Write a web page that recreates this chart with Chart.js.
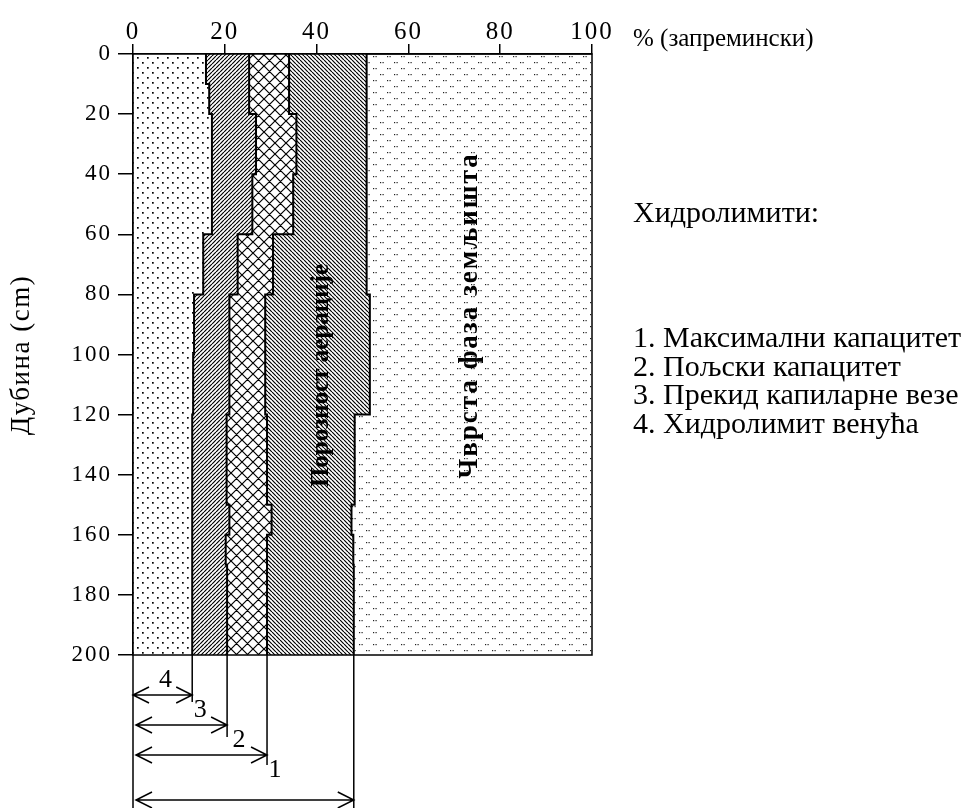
<!DOCTYPE html>
<html lang="sr">
<head>
<meta charset="UTF-8" />
<title>Хидролимити</title>
<script src="https://cdn.jsdelivr.net/npm/chart.js@4.4.1/dist/chart.umd.min.js"></script>
<style>
  * { box-sizing: border-box; }
  html, body { margin: 0; padding: 0; background: #fff; }
  #wrap { position: relative; width: 963px; height: 808px; }
</style>
</head>
<body>
<div id="wrap"><canvas id="chart"></canvas></div>
<script>
// depth (cm) where each layer starts; the last layer goes down to profileBottom
const depthTops = [0, 10, 20, 40, 60, 80, 100, 120, 150, 160, 170];
const profileBottom = 200;

// hydrolimits, % by volume, one value per layer
const maxCapacity    = [50.9, 50.9, 50.9, 50.9, 50.9, 51.6, 51.6, 48.3, 47.6, 48.0, 48.1]; // 1
const fieldCapacity  = [34.0, 34.0, 35.6, 34.9, 30.5, 28.8, 28.8, 29.2, 30.2, 29.2, 29.2]; // 2
const capillaryBreak = [25.3, 25.3, 26.8, 26.0, 22.8, 21.0, 21.0, 20.4, 21.0, 20.2, 20.5]; // 3
const wiltingPoint   = [15.9, 16.6, 17.2, 17.2, 15.3, 13.3, 13.1, 12.9, 12.9, 12.9, 12.9]; // 4

const xTicks = [0, 20, 40, 60, 80, 100];
const yTicks = [0, 20, 40, 60, 80, 100, 120, 140, 160, 180, 200];

const legendTitle = 'Хидролимити:';
const legendItems = ['1. Максимални капацитет', '2. Пољски капацитет', '3. Прекид капиларне везе', '4. Хидролимит венућа'];

const SERIF = "'Liberation Serif', 'Times New Roman', serif";

// step profile: one point at the top of every layer plus one at the bottom
function profile(values) {
  const pts = values.map((v, i) => ({ x: v, y: depthTops[i] }));
  pts.push({ x: values[values.length - 1], y: profileBottom });
  return pts;
}

// small tiles for the hatch patterns
function makePattern(w, h, draw) {
  const c = document.createElement('canvas');
  c.width = w; c.height = h;
  const g = c.getContext('2d');
  g.fillStyle = '#fff';
  g.fillRect(0, 0, w, h);
  g.fillStyle = '#000';
  g.strokeStyle = '#000';
  g.lineWidth = 1.2;
  draw(g, w, h);
  return g.createPattern(c, 'repeat');
}

const patterns = {
  dots: makePattern(10, 10, g => {
    g.fillRect(2, 2, 1.7, 1.7);
    g.fillRect(7, 7, 1.7, 1.7);
  }),
  solid: makePattern(14, 12, g => {
    g.fillStyle = '#222';
    g.fillRect(2, 2, 1.2, 1.2); g.fillRect(4.5, 2, 1.2, 1.2);
    g.fillRect(9, 8, 1.2, 1.2); g.fillRect(11.5, 8, 1.2, 1.2);
  }),
  slash: makePattern(4, 4, (g, w, h) => {
    g.beginPath();
    for (let k = -1; k <= 1; k++) { g.moveTo(k * w, h); g.lineTo(k * w + w, 0); }
    g.stroke();
  }),
  backslash: makePattern(4, 4, (g, w, h) => {
    g.beginPath();
    for (let k = -1; k <= 1; k++) { g.moveTo(k * w, 0); g.lineTo(k * w + w, h); }
    g.stroke();
  }),
  cross: makePattern(11, 11, (g, w, h) => {
    g.beginPath();
    for (let k = -1; k <= 1; k++) {
      g.moveTo(k * w, h); g.lineTo(k * w + w, 0);
      g.moveTo(k * w, 0); g.lineTo(k * w + w, h);
    }
    g.stroke();
  })
};

function text(ctx, str, x, y, font, opts = {}) {
  ctx.save();
  ctx.letterSpacing = opts.spacing || '0px';
  ctx.font = font;
  ctx.fillStyle = '#000';
  ctx.textAlign = opts.align || 'left';
  ctx.textBaseline = opts.baseline || 'alphabetic';
  ctx.translate(x, y);
  if (opts.rotate) ctx.rotate(opts.rotate);
  ctx.fillText(str, 0, 0);
  ctx.restore();
}

function arrow(ctx, x1, x2, y) {
  const hl = 16, hw = 8;
  ctx.beginPath();
  ctx.moveTo(x1, y); ctx.lineTo(x2, y);
  ctx.moveTo(x1 + hl, y - hw); ctx.lineTo(x1, y); ctx.lineTo(x1 + hl, y + hw);
  ctx.moveTo(x2 - hl, y - hw); ctx.lineTo(x2, y); ctx.lineTo(x2 - hl, y + hw);
  ctx.stroke();
}

const decor = {
  id: 'decor',
  beforeUpdate(chart) { chart.ctx.letterSpacing = '2px'; },
  beforeDraw(chart) {
    const { ctx, chartArea: a } = chart;
    ctx.save();
    ctx.fillStyle = patterns.solid;
    ctx.fillRect(a.left, a.top, a.right - a.left, a.bottom - a.top);
    ctx.restore();
    ctx.letterSpacing = '2px';
  },
  afterDatasetsDraw(chart) {
    const { ctx, chartArea: a, scales } = chart;
    const xs = scales.x, ys = scales.y;
    ctx.save();
    ctx.strokeStyle = '#000';
    ctx.lineWidth = 1.5;
    ctx.strokeRect(a.left, a.top, a.right - a.left, a.bottom - a.top);
    ctx.restore();
    // labels inside the profile
    text(ctx, 'Порозност аерације', xs.getPixelForValue(41), ys.getPixelForValue(107),
      'bold 25px ' + SERIF, { align: 'center', baseline: 'middle', rotate: -Math.PI / 2 });
    text(ctx, 'Чврста фаза земљишта', xs.getPixelForValue(73.4), ys.getPixelForValue(87),
      'bold 27px ' + SERIF, { align: 'center', baseline: 'middle', rotate: -Math.PI / 2, spacing: '2px' });
  },
  afterDraw(chart) {
    const { ctx, chartArea: a, scales } = chart;
    const xs = scales.x;
    const last = arr => arr[arr.length - 1];
    const x0 = xs.getPixelForValue(0);
    const limits = [wiltingPoint, capillaryBreak, fieldCapacity, maxCapacity];
    const lineEnd = [47, 82, 110, 160];
    const arrowY = [40, 70, 100, 145];
    ctx.save();
    ctx.letterSpacing = '0px';
    ctx.strokeStyle = '#000';
    ctx.lineWidth = 1.5;
    ctx.beginPath();
    ctx.moveTo(x0, a.bottom); ctx.lineTo(x0, chart.height);
    limits.forEach((arr, i) => {
      const xp = xs.getPixelForValue(last(arr));
      ctx.moveTo(xp, a.bottom); ctx.lineTo(xp, a.bottom + lineEnd[i]);
    });
    ctx.stroke();
    limits.forEach((arr, i) => {
      arrow(ctx, x0 + (i === 0 ? 0 : 3), xs.getPixelForValue(last(arr)), a.bottom + arrowY[i]);
    });
    ctx.restore();

    const f = '26px ' + SERIF;
    const xw = xs.getPixelForValue(last(wiltingPoint));
    const xc = xs.getPixelForValue(last(capillaryBreak));
    const xf = xs.getPixelForValue(last(fieldCapacity));
    text(ctx, '4', (x0 + xw) / 2 + 3, a.bottom + 32, f, { align: 'center' });
    text(ctx, '3', xw + 8, a.bottom + 62, f, { align: 'center' });
    text(ctx, '2', xc + 12, a.bottom + 92, f, { align: 'center' });
    text(ctx, '1', xf + 8, a.bottom + 122, f, { align: 'center' });

    // axis titles
    text(ctx, '% (запремински)', 633, 46, '25px ' + SERIF);
    text(ctx, 'Дубина (cm)', 22, 355, '27px ' + SERIF,
      { align: 'center', baseline: 'middle', rotate: -Math.PI / 2, spacing: '1.5px' });

    // legend
    text(ctx, legendTitle, 633, 222, '30px ' + SERIF);
    legendItems.forEach((s, i) => text(ctx, s, 633, 347 + i * 28.5, '30px ' + SERIF));
    ctx.letterSpacing = '2px';
  }
};

const lineStyle = { borderColor: '#000', borderWidth: 2, pointRadius: 0, stepped: 'after' };

Chart.defaults.font.family = SERIF;

new Chart(document.getElementById('chart'), {
  type: 'line',
  data: {
    datasets: [
      { label: '4', data: profile(wiltingPoint), fill: 'start', backgroundColor: patterns.dots, ...lineStyle },
      { label: '3', data: profile(capillaryBreak), fill: '-1', backgroundColor: patterns.slash, ...lineStyle },
      { label: '2', data: profile(fieldCapacity), fill: '-1', backgroundColor: patterns.cross, ...lineStyle },
      { label: '1', data: profile(maxCapacity), fill: '-1', backgroundColor: patterns.backslash, ...lineStyle }
    ]
  },
  options: {
    indexAxis: 'y',
    responsive: true,
    maintainAspectRatio: false,
    animation: false,
    events: [],
    layout: { padding: { left: 0, top: 0, right: 371, bottom: 153 } },
    plugins: { legend: { display: false }, tooltip: { enabled: false } },
    scales: {
      x: {
        type: 'linear', position: 'top', min: 0, max: 100,
        afterFit: s => { s.height = 54; },
        afterBuildTicks: s => { s.ticks = xTicks.map(v => ({ value: v })); },
        grid: { drawOnChartArea: false, drawTicks: true, tickLength: 10, color: '#000', lineWidth: 1.5 },
        border: { display: true, color: '#000', width: 1.5 },
        ticks: { color: '#000', padding: -3, maxRotation: 0, font: { size: 25 } }
      },
      y: {
        type: 'linear', position: 'left', min: 0, max: 200, reverse: true,
        afterFit: s => { s.width = 133; },
        afterBuildTicks: s => { s.ticks = yTicks.map(v => ({ value: v })); },
        grid: { drawOnChartArea: false, drawTicks: true, tickLength: 15, color: '#000', lineWidth: 1.5 },
        border: { display: true, color: '#000', width: 1.5 },
        ticks: { color: '#000', padding: 6, font: { size: 23 } }
      }
    }
  },
  plugins: [decor]
});
</script>
</body>
</html>
